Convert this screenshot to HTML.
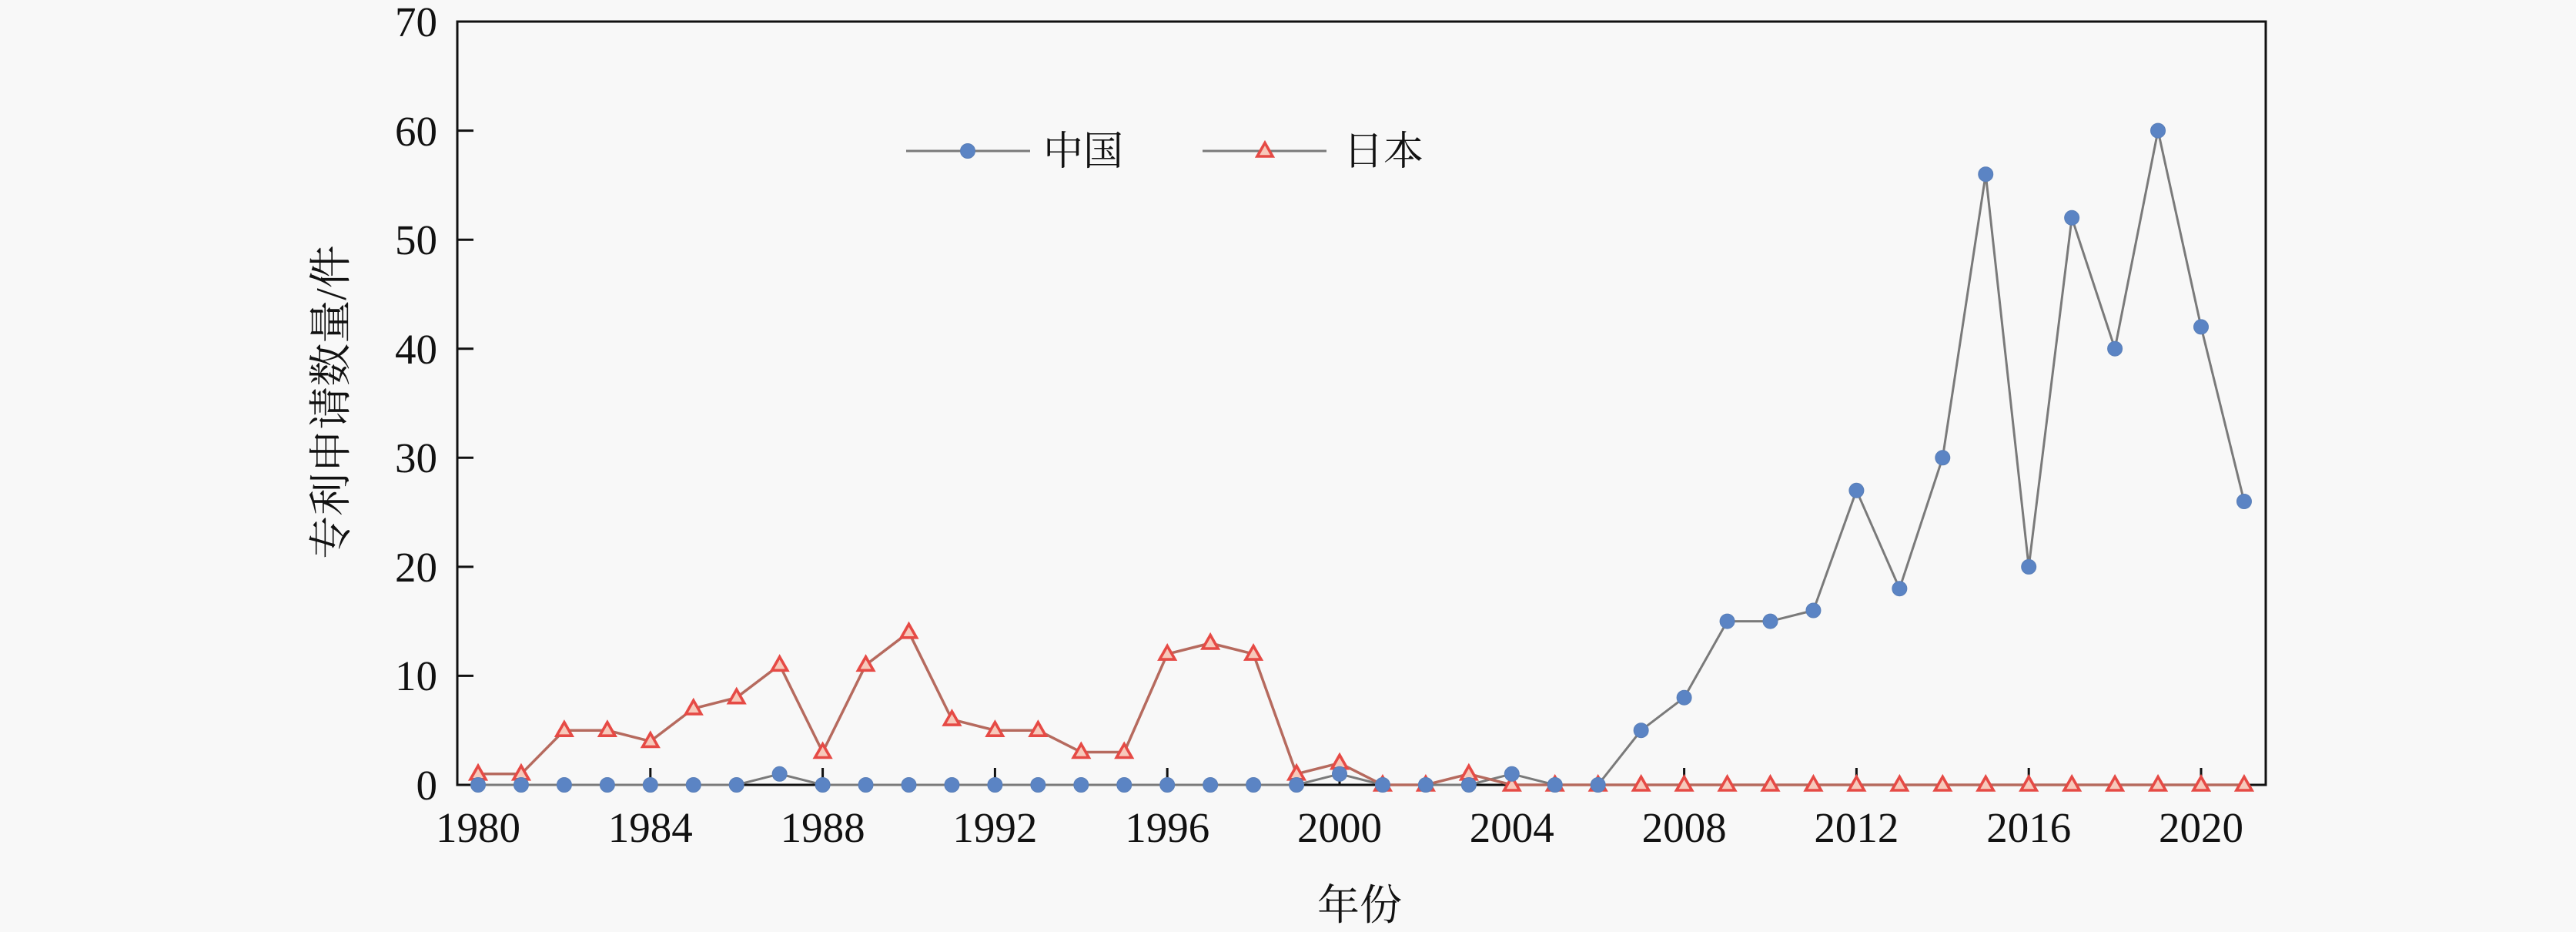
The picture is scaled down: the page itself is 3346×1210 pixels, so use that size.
<!DOCTYPE html>
<html>
<head>
<meta charset="utf-8">
<style>
html,body{margin:0;padding:0;background:#f8f8f8;}
svg{display:block;}
.tk{font-family:"Liberation Serif","Noto Serif CJK SC",serif;font-size:55px;fill:#111;}
.cj{font-family:"Liberation Serif","Noto Serif CJK SC",serif;fill:#111;}
</style>
</head>
<body>
<svg width="3346" height="1210" viewBox="0 0 3346 1210" xmlns="http://www.w3.org/2000/svg">
<rect x="0" y="0" width="3346" height="1210" fill="#f8f8f8"/>
<defs>
  <circle id="c" r="9.5" fill="#5b84c4" stroke="#5a7fb8" stroke-width="1"/>
  <path id="t" d="M0,-10.5 L10,7 L-10,7 Z" fill="#f7c9bb" stroke="#e64a45" stroke-width="3.6" stroke-linejoin="miter"/>
</defs>

<!-- axes frame -->
<g stroke="#111" stroke-width="3" fill="none">
  <line x1="594" y1="28" x2="2943" y2="28"/>
  <line x1="594" y1="26.5" x2="594" y2="1020.5"/>
  <line x1="2943" y1="26.5" x2="2943" y2="1020.5"/>
  <line x1="592.5" y1="1019" x2="2944.5" y2="1019"/>
</g>
<!-- y ticks -->
<g stroke="#111" stroke-width="3">
  <line x1="594" y1="169.6" x2="615" y2="169.6"/>
  <line x1="594" y1="311.2" x2="615" y2="311.2"/>
  <line x1="594" y1="452.7" x2="615" y2="452.7"/>
  <line x1="594" y1="594.3" x2="615" y2="594.3"/>
  <line x1="594" y1="735.9" x2="615" y2="735.9"/>
  <line x1="594" y1="877.4" x2="615" y2="877.4"/>
</g>
<!-- x ticks -->
<g stroke="#111" stroke-width="3">
  <line x1="621" y1="1019" x2="621" y2="997"/>
  <line x1="844.8" y1="1019" x2="844.8" y2="997"/>
  <line x1="1068.6" y1="1019" x2="1068.6" y2="997"/>
  <line x1="1292.4" y1="1019" x2="1292.4" y2="997"/>
  <line x1="1516.2" y1="1019" x2="1516.2" y2="997"/>
  <line x1="1740" y1="1019" x2="1740" y2="997"/>
  <line x1="1963.8" y1="1019" x2="1963.8" y2="997"/>
  <line x1="2187.6" y1="1019" x2="2187.6" y2="997"/>
  <line x1="2411.4" y1="1019" x2="2411.4" y2="997"/>
  <line x1="2635.2" y1="1019" x2="2635.2" y2="997"/>
  <line x1="2859" y1="1019" x2="2859" y2="997"/>
</g>

<!-- y tick labels -->
<g class="tk" text-anchor="end">
  <text x="568" y="47">70</text>
  <text x="568" y="189">60</text>
  <text x="568" y="330">50</text>
  <text x="568" y="472">40</text>
  <text x="568" y="613">30</text>
  <text x="568" y="755">20</text>
  <text x="568" y="896">10</text>
  <text x="568" y="1038">0</text>
</g>
<!-- x tick labels -->
<g class="tk" text-anchor="middle">
  <text x="621" y="1093">1980</text>
  <text x="844.8" y="1093">1984</text>
  <text x="1068.6" y="1093">1988</text>
  <text x="1292.4" y="1093">1992</text>
  <text x="1516.2" y="1093">1996</text>
  <text x="1740" y="1093">2000</text>
  <text x="1963.8" y="1093">2004</text>
  <text x="2187.6" y="1093">2008</text>
  <text x="2411.4" y="1093">2012</text>
  <text x="2635.2" y="1093">2016</text>
  <text x="2859" y="1093">2020</text>
</g>

<!-- axis titles -->
<text class="cj" x="1766" y="1194" font-size="55" text-anchor="middle">年份</text>
<text class="cj" transform="translate(449,522) rotate(-90)" font-size="56" text-anchor="middle">专利申请数量/件</text>

<!-- series lines -->
<polyline fill="none" stroke="#7a7a7a" stroke-width="3" stroke-linejoin="round" points="621,1019 676.95,1019 732.9,1019 788.85,1019 844.8,1019 900.75,1019 956.7,1019 1012.65,1004.8 1068.6,1019 1124.55,1019 1180.5,1019 1236.45,1019 1292.4,1019 1348.35,1019 1404.3,1019 1460.25,1019 1516.2,1019 1572.15,1019 1628.1,1019 1684.05,1019 1740,1004.8 1795.95,1019 1851.9,1019 1907.85,1019 1963.8,1004.8 2019.75,1019 2075.7,1019 2131.65,948.2 2187.6,905.7 2243.55,806.6 2299.5,806.6 2355.45,792.5 2411.4,636.8 2467.35,764.2 2523.3,594.3 2579.25,226.2 2635.2,735.9 2691.15,282.8 2747.1,452.7 2803.05,169.6 2859,424.4 2914.95,651.0"/>
<polyline fill="none" stroke="#b66a5e" stroke-width="3.5" stroke-linejoin="round" points="621,1004.8 676.95,1004.8 732.9,948.2 788.85,948.2 844.8,962.4 900.75,919.9 956.7,905.7 1012.65,863.3 1068.6,976.5 1124.55,863.3 1180.5,820.8 1236.45,934.1 1292.4,948.2 1348.35,948.2 1404.3,976.5 1460.25,976.5 1516.2,849.1 1572.15,835.0 1628.1,849.1 1684.05,1004.8 1740,990.7 1795.95,1019 1851.9,1019 1907.85,1004.8 1963.8,1019 2019.75,1019 2075.7,1019 2131.65,1019 2187.6,1019 2243.55,1019 2299.5,1019 2355.45,1019 2411.4,1019 2467.35,1019 2523.3,1019 2579.25,1019 2635.2,1019 2691.15,1019 2747.1,1019 2803.05,1019 2859,1019 2914.95,1019"/>

<!-- Japan markers -->
<g>
<use href="#t" x="621" y="1004.8"/><use href="#t" x="676.95" y="1004.8"/><use href="#t" x="732.9" y="948.2"/><use href="#t" x="788.85" y="948.2"/><use href="#t" x="844.8" y="962.4"/><use href="#t" x="900.75" y="919.9"/><use href="#t" x="956.7" y="905.7"/><use href="#t" x="1012.65" y="863.3"/><use href="#t" x="1068.6" y="976.5"/><use href="#t" x="1124.55" y="863.3"/><use href="#t" x="1180.5" y="820.8"/><use href="#t" x="1236.45" y="934.1"/><use href="#t" x="1292.4" y="948.2"/><use href="#t" x="1348.35" y="948.2"/><use href="#t" x="1404.3" y="976.5"/><use href="#t" x="1460.25" y="976.5"/><use href="#t" x="1516.2" y="849.1"/><use href="#t" x="1572.15" y="835.0"/><use href="#t" x="1628.1" y="849.1"/><use href="#t" x="1684.05" y="1004.8"/><use href="#t" x="1740" y="990.7"/><use href="#t" x="1795.95" y="1019"/><use href="#t" x="1851.9" y="1019"/><use href="#t" x="1907.85" y="1004.8"/><use href="#t" x="1963.8" y="1019"/><use href="#t" x="2019.75" y="1019"/><use href="#t" x="2075.7" y="1019"/><use href="#t" x="2131.65" y="1019"/><use href="#t" x="2187.6" y="1019"/><use href="#t" x="2243.55" y="1019"/><use href="#t" x="2299.5" y="1019"/><use href="#t" x="2355.45" y="1019"/><use href="#t" x="2411.4" y="1019"/><use href="#t" x="2467.35" y="1019"/><use href="#t" x="2523.3" y="1019"/><use href="#t" x="2579.25" y="1019"/><use href="#t" x="2635.2" y="1019"/><use href="#t" x="2691.15" y="1019"/><use href="#t" x="2747.1" y="1019"/><use href="#t" x="2803.05" y="1019"/><use href="#t" x="2859" y="1019"/><use href="#t" x="2914.95" y="1019"/>
</g>
<!-- China markers -->
<g>
<use href="#c" x="621" y="1019"/><use href="#c" x="676.95" y="1019"/><use href="#c" x="732.9" y="1019"/><use href="#c" x="788.85" y="1019"/><use href="#c" x="844.8" y="1019"/><use href="#c" x="900.75" y="1019"/><use href="#c" x="956.7" y="1019"/><use href="#c" x="1012.65" y="1004.8"/><use href="#c" x="1068.6" y="1019"/><use href="#c" x="1124.55" y="1019"/><use href="#c" x="1180.5" y="1019"/><use href="#c" x="1236.45" y="1019"/><use href="#c" x="1292.4" y="1019"/><use href="#c" x="1348.35" y="1019"/><use href="#c" x="1404.3" y="1019"/><use href="#c" x="1460.25" y="1019"/><use href="#c" x="1516.2" y="1019"/><use href="#c" x="1572.15" y="1019"/><use href="#c" x="1628.1" y="1019"/><use href="#c" x="1684.05" y="1019"/><use href="#c" x="1740" y="1004.8"/><use href="#c" x="1795.95" y="1019"/><use href="#c" x="1851.9" y="1019"/><use href="#c" x="1907.85" y="1019"/><use href="#c" x="1963.8" y="1004.8"/><use href="#c" x="2019.75" y="1019"/><use href="#c" x="2075.7" y="1019"/><use href="#c" x="2131.65" y="948.2"/><use href="#c" x="2187.6" y="905.7"/><use href="#c" x="2243.55" y="806.6"/><use href="#c" x="2299.5" y="806.6"/><use href="#c" x="2355.45" y="792.5"/><use href="#c" x="2411.4" y="636.8"/><use href="#c" x="2467.35" y="764.2"/><use href="#c" x="2523.3" y="594.3"/><use href="#c" x="2579.25" y="226.2"/><use href="#c" x="2635.2" y="735.9"/><use href="#c" x="2691.15" y="282.8"/><use href="#c" x="2747.1" y="452.7"/><use href="#c" x="2803.05" y="169.6"/><use href="#c" x="2859" y="424.4"/><use href="#c" x="2914.95" y="651.0"/>
</g>

<!-- legend -->
<line x1="1177" y1="196" x2="1338" y2="196" stroke="#7a7a7a" stroke-width="3"/>
<use href="#c" x="1257" y="196"/>
<text class="cj" x="1355" y="214" font-size="52">中国</text>
<line x1="1562" y1="196" x2="1723" y2="196" stroke="#7a7a7a" stroke-width="3"/>
<use href="#t" x="1643" y="196"/>
<text class="cj" x="1745" y="214" font-size="52">日本</text>
</svg>
</body>
</html>
